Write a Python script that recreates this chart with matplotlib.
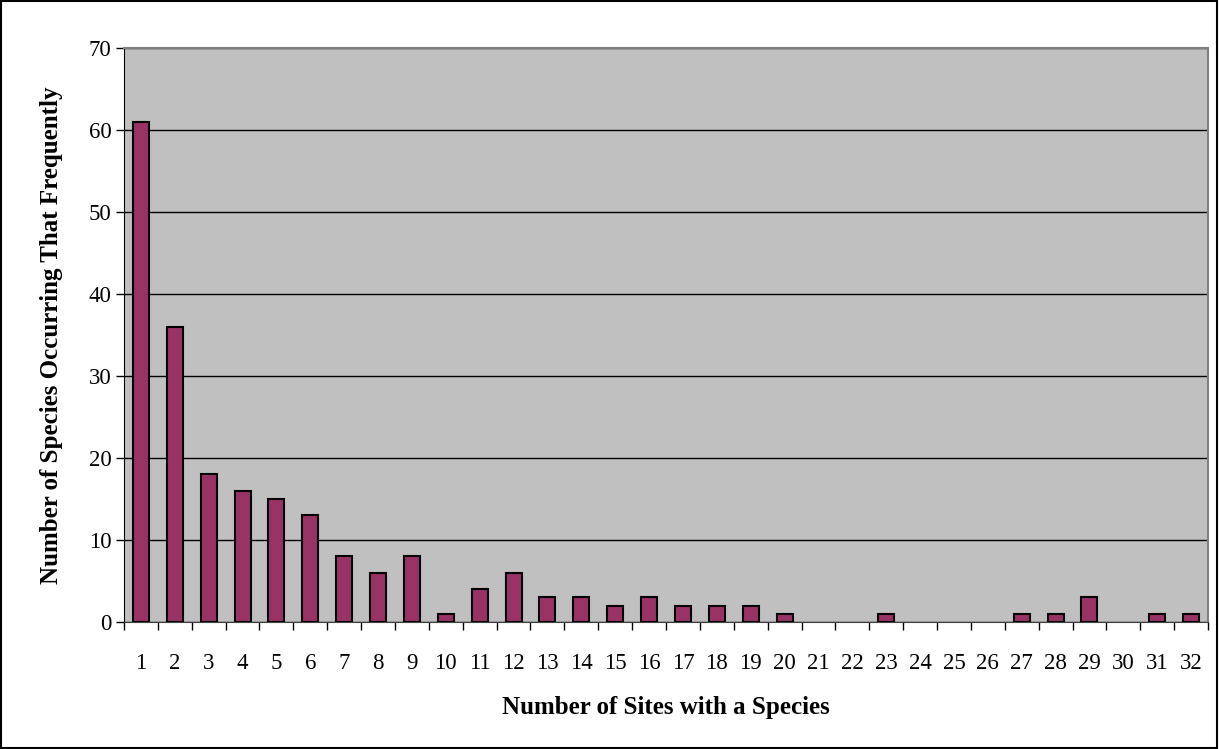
import numpy as np
import matplotlib
matplotlib.use('Agg')
import matplotlib.pyplot as plt
from matplotlib.patches import Rectangle

# 物种出现频次分布
sites = list(range(1, 33))
species_counts = [61, 36, 18, 16, 15, 13, 8, 6, 8, 1,
                  4, 6, 3, 3, 2, 3, 2, 2, 2, 1,
                  0, 0, 1, 0, 0, 0, 1, 1, 3, 0,
                  1, 1]

plt.rcParams['font.family'] = ['Liberation Serif', 'DejaVu Serif']

fig = plt.figure(figsize=(12.19, 7.49), dpi=100)
ax = fig.add_axes([0.1017, 0.1696, 0.8893, 0.7664])

ax.set_facecolor('#C0C0C0')
x = np.arange(len(sites))
edges = ['black' if v > 0 else 'none' for v in species_counts]  # 零值不画边框
ax.bar(x, species_counts, width=0.47, color='#993366', edgecolor=edges,
       linewidth=1.5, zorder=3)

ax.set_xlim(-0.5, len(sites) - 0.5)
ax.set_ylim(0, 70)
ax.set_yticks(range(0, 71, 10))
ax.yaxis.grid(True, color='black', linewidth=1.0, zorder=1)

# x 轴刻度在类别之间，标签在类别中心
ax.set_xticks(np.arange(-0.5, len(sites), 1.0))
ax.set_xticklabels([])
ax.set_xticks(x, minor=True)
ax.set_xticklabels([str(s) for s in sites], minor=True, fontsize=16.5)
ax.tick_params(axis='x', which='minor', length=0, pad=22)
ax.tick_params(axis='x', which='major', length=6, width=1, direction='out')
ax.tick_params(axis='y', length=6, width=1, direction='out', labelsize=16.5, pad=3)

for side in ['top', 'right']:
    ax.spines[side].set_color('#808080')
    ax.spines[side].set_linewidth(1.5)
ax.spines['left'].set_color('black')
ax.spines['bottom'].set_color('#404040')

ax.set_xlabel('Number of Sites with a Species', fontsize=18, fontweight='bold',
              va='center', ha='center')
ax.xaxis.set_label_coords(0.5, -0.1498)
ax.set_ylabel('Number of Species Occurring That Frequently', fontsize=18,
              fontweight='bold', va='center', ha='center')
ax.yaxis.set_label_coords(-0.0664, 0.5)

# 外框
fig.patches.append(Rectangle((0.001, 0.001), 0.997, 0.997, transform=fig.transFigure,
                             fill=False, edgecolor='black', linewidth=1.5))

fig.savefig('out.png', dpi=100)
